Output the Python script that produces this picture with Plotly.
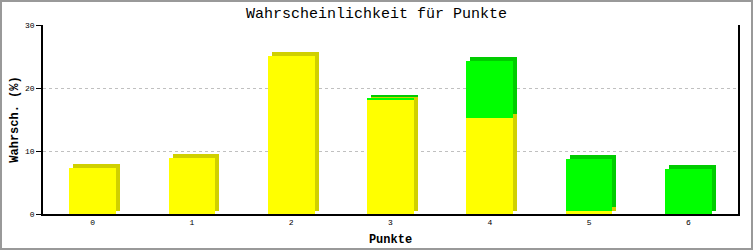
import plotly.graph_objects as go

categories = ["0", "1", "2", "3", "4", "5", "6"]
yellow_vals = [7.35, 8.95, 25.1, 18.1, 15.3, 0.5, 0.0]
green_vals = [0.0, 0.0, 0.0, 0.3, 9.0, 8.3, 7.2]
y_ticks = [0, 10, 20, 30]

FONT = "Liberation Mono"
BAR_W = 0.47
DX = 0.04    # depth offset in category units (~4px)
DY = 0.55    # depth offset in value units (~3.5px)

xs = list(range(len(categories)))
green_base = yellow_vals

fig = go.Figure()

def add_series(vals, bases, front, back):
    # back (side/top) face
    fig.add_trace(go.Bar(
        x=[x + DX for x in xs], y=[v if v > 0 else None for v in vals],
        base=[b + DY for b in bases], width=BAR_W,
        marker=dict(color=back, line=dict(width=0)),
        hoverinfo="skip", showlegend=False))
    return dict(x=xs, y=[v if v > 0 else None for v in vals], base=bases, width=BAR_W,
                marker=dict(color=front, line=dict(width=0)), showlegend=False)

f1 = add_series(yellow_vals, [0] * len(xs), "#FFFF00", "#D0D000")
f2 = add_series(green_vals, green_base, "#00FF00", "#00CC00")
fig.add_trace(go.Bar(**f1))
fig.add_trace(go.Bar(**f2))

fig.update_layout(
    width=753, height=250,
    margin=dict(l=43, r=15, t=25, b=36, autoexpand=False),
    paper_bgcolor="white", plot_bgcolor="white",
    barmode="overlay", bargap=0,
    title=dict(text="Wahrscheinlichkeit für Punkte", x=0.5, xanchor="center",
               y=1 - 13 / 250, yanchor="middle",
               font=dict(family=FONT, size=15, color="black")),
    font=dict(family=FONT, color="black"),
    shapes=[dict(type="rect", xref="paper", yref="paper",
                 x0=-42 / 695, x1=1 + 14 / 695, y0=-35 / 189, y1=1 + 24 / 189,
                 line=dict(color="#999999", width=2), layer="below")],
)

fig.update_xaxes(
    range=[-0.5, 6.5], tickvals=xs, ticktext=categories, automargin=False,
    showline=True, linecolor="black", linewidth=1.5, ticks="",
    showgrid=False, zeroline=False,
    tickfont=dict(family=FONT, size=8),
    title=dict(text="<b>Punkte</b>", font=dict(family=FONT, size=12), standoff=8),
)
fig.update_yaxes(
    range=[0, 30], tickvals=y_ticks, automargin=False,
    showline=True, linecolor="black", linewidth=1.5, mirror=True,
    ticks="outside", ticklen=5, tickcolor="black",
    showgrid=True, gridcolor="#C0C0C0", griddash="dot", gridwidth=1,
    zeroline=False,
    tickfont=dict(family=FONT, size=8),
    title=dict(text="<b>Wahrsch. (%)</b>", font=dict(family=FONT, size=12), standoff=4),
)

fig.write_html("out.html")
